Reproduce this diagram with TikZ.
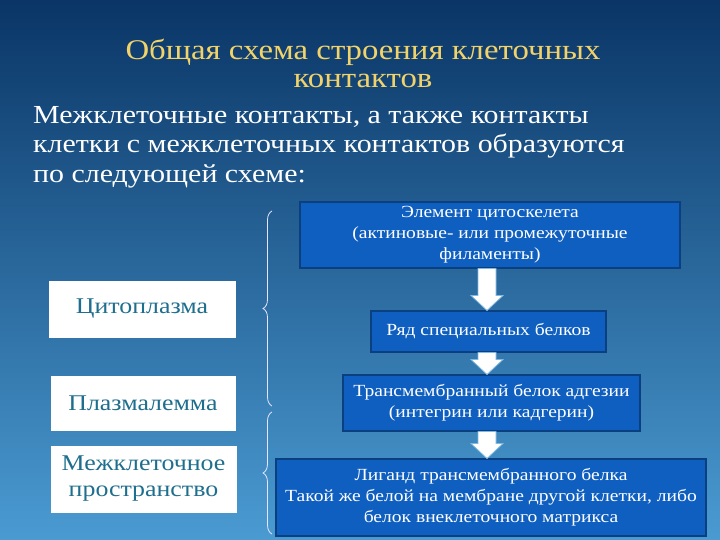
\documentclass[tikz,border=0pt]{standalone}
\usepackage{fontspec}
\setmainfont[FakeStretch=1.15]{Liberation Serif}
\usetikzlibrary{decorations.pathreplacing}
\definecolor{titley}{HTML}{F2D36A}
\definecolor{boxblue}{HTML}{0F5FC0}
\definecolor{boxedge}{HTML}{0A3F80}
\definecolor{tealtxt}{HTML}{1E6E8E}
\definecolor{bgtop}{HTML}{0A3566}
\definecolor{bgbot}{HTML}{4A9BD2}
\definecolor{arredge}{HTML}{7FB8E0}
\tikzset{
 rbox/.style={draw=boxedge,line width=1.2pt,fill=boxblue,text=white,align=center,font=\fontsize{17}{21}\selectfont,inner sep=0pt},
 lbox/.style={draw=white,fill=white,text=tealtxt,align=center,font=\fontsize{22.5}{26}\selectfont,inner sep=0pt},
 darr/.style={draw=arredge,fill=white,line width=0.8pt,line join=miter},
 brc/.style={draw=white!90!blue,line width=0.8pt,decorate,decoration={brace,amplitude=9pt}}
}
\newcommand{\downarr}[2]{\draw[darr] (#1) ++(-9,0) -- ++(0,#2-15) -- ++(-7,0) -- ++(16,15) -- ++(16,-15) -- ++(-7,0) -- ++(0,15-#2) -- cycle;}
\begin{document}
\begin{tikzpicture}[x=1pt,y=-1pt]
\shade[top color=bgtop,bottom color=bgbot] (0,0) rectangle (720,540);
\useasboundingbox (0,0) rectangle (720,540);
\node (title) [text=titley,align=center,font=\fontsize{28.5}{28}\selectfont] at (363,63) {Общая схема строения клеточных\\контактов};
\node (intro) [text=white,align=left,anchor=north west,font=\fontsize{26}{29.5}\selectfont,inner sep=0pt] at (33,106) {Межклеточные контакты, а также контакты\\клетки с межклеточных контактов образуются\\по следующей схеме:};
\node (r1) [rbox,minimum width=380pt,minimum height=66pt] at (490,235) {Элемент цитоскелета\\(актиновые- или промежуточные\\филаменты)};
\node (r2) [rbox,minimum width=235pt,minimum height=41pt] at (488.5,331.5) {Ряд специальных белков};
\node (r3) [rbox,minimum width=297pt,minimum height=56pt] at (491.5,403) {Трансмембранный белок адгезии\\(интегрин или кадгерин)};
\node (r4) [rbox,minimum width=430pt,minimum height=77pt] at (491,497.5) {Лиганд трансмембранного белка\\Такой же белой на мембране другой клетки, либо\\белок внеклеточного матрикса};
\coordinate (a1) at (487,268.5);
\coordinate (a2) at (487,352.5);
\coordinate (a3) at (487,431.5);
\downarr{a1}{42}
\downarr{a2}{22}
\downarr{a3}{27}
\node (l1) [lbox,minimum width=186pt,minimum height=56pt] at (142,309) {Цитоплазма};
\node (l2) [lbox,minimum width=184pt,minimum height=54pt] at (143,403) {Плазмалемма};
\node (l3) [lbox,minimum width=185pt,minimum height=66pt] at (143.5,479) {Межклеточное\\пространство};
\coordinate (b1s) at (272,406);
\coordinate (b1e) at (272,211);
\coordinate (b2s) at (272,534);
\coordinate (b2e) at (272,412);
\draw[brc] (b1s) -- (b1e);
\draw[brc] (b2s) -- (b2e);
\end{tikzpicture}
\end{document}
